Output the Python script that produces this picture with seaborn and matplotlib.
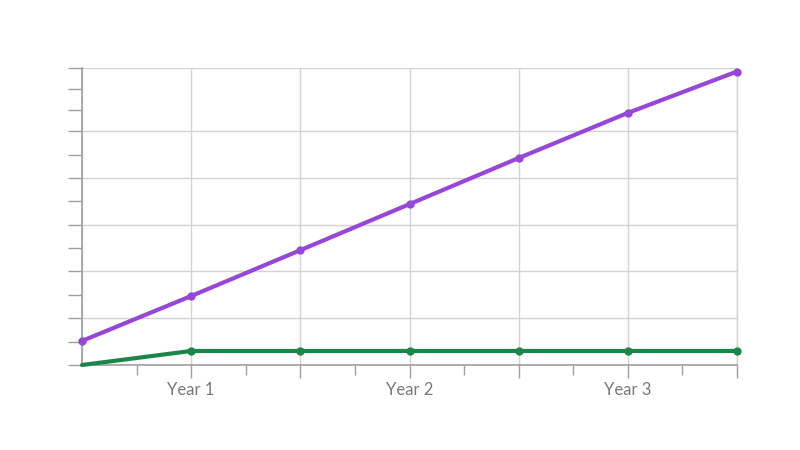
import matplotlib
matplotlib.use("Agg")
import matplotlib.pyplot as plt
import seaborn as sns
import pandas as pd
from matplotlib.ticker import FixedLocator

x_index = [0, 1, 2, 3, 4, 5, 6]
purple_values = [1.03, 2.95, 4.91, 6.88, 8.85, 10.78, 12.55]
green_values = [0.0, 0.6, 0.6, 0.6, 0.6, 0.6, 0.6]
tick_labels = ["", "Year 1", "", "Year 2", "", "Year 3", ""]
series_names = ["Purple", "Green"]
colors = ["#9646d8", "#1b8647"]

sns.set_style("white")
plt.rcParams['font.family'] = ['Lato', 'DejaVu Sans']

df = pd.DataFrame({
    "x": x_index * 2,
    "y": purple_values + green_values,
    "series": [series_names[0]] * len(x_index) + [series_names[1]] * len(x_index),
})

fig = plt.figure(figsize=(8, 4.5), dpi=100)
ax = fig.add_axes([82 / 800, 1 - 365 / 450, (737 - 82) / 800, (365 - 68) / 450])

sns.lineplot(data=df, x="x", y="y", hue="series", palette=colors,
             marker="o", markersize=6, markeredgewidth=0, linewidth=3.0,
             legend=False, ax=ax)
for ln in ax.lines:
    ln.set_clip_on(False)
    ln.set_zorder(5)
ax.lines[1].set_markevery(list(range(1, len(x_index))))

ax.set_xlim(0, 6)
ax.set_ylim(0, 12.7)

ax.xaxis.set_major_locator(FixedLocator(x_index))
ax.set_xticklabels(tick_labels)
ax.xaxis.set_minor_locator(FixedLocator([0.5, 1.5, 2.5, 3.5, 4.5, 5.5]))
ax.yaxis.set_major_locator(FixedLocator([0, 2, 4, 6, 8, 10, 12.7]))
ax.yaxis.set_minor_locator(FixedLocator([1, 3, 5, 7, 9, 10.9, 11.8]))
ax.set_yticklabels([])

ax.grid(True, which="major", color="#d4d2d6", linewidth=1)
ax.spines["top"].set_visible(False)
ax.spines["right"].set_visible(True)
ax.spines["right"].set_color("#d4d2d6")
ax.spines["right"].set_linewidth(1)
for s in ["left", "bottom"]:
    ax.spines[s].set_color("#a09ea3")
    ax.spines[s].set_linewidth(1.2)

ax.tick_params(axis="x", which="major", length=9, width=1, color="#a09ea3",
               labelsize=12, labelcolor="#7a777d", pad=3, bottom=True)
ax.tick_params(axis="x", which="minor", length=7, width=1, color="#a09ea3", bottom=True)
ax.tick_params(axis="y", which="both", length=10, width=1, color="#a09ea3", left=True)
ax.xaxis.get_major_ticks()[0].tick1line.set_visible(False)

ax.set_xlabel("")
ax.set_ylabel("")

fig.savefig("out.png", dpi=100, facecolor="white")
